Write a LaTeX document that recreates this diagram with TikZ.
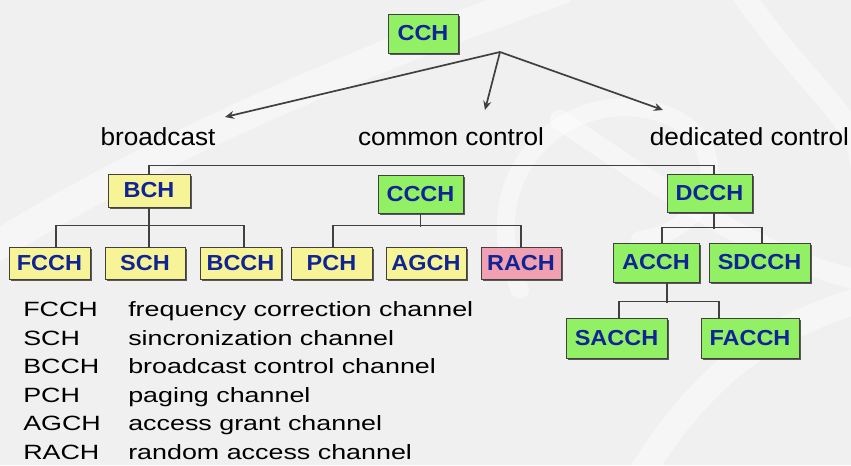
\documentclass[tikz,border=0pt]{standalone}
\usepackage{fontspec}
\setmainfont{Liberation Sans}
\newfontfamily\legendfont[FakeStretch=1.3]{Liberation Sans}
\newfontfamily\boxfont[FakeStretch=1.08]{Liberation Sans}
\newfontfamily\labelfont[FakeStretch=1.06]{Liberation Sans}
\usetikzlibrary{arrows.meta,shadows,calc}
\newlength\pxu
\setlength\pxu{0.75pt}
\definecolor{chgreen}{RGB}{146,240,100}
\definecolor{chyellow}{RGB}{246,244,150}
\definecolor{chpink}{RGB}{240,160,176}
\definecolor{chtext}{RGB}{16,36,150}
\definecolor{bggray}{RGB}{240,240,240}
\tikzset{
  chan/.style={draw=black!75, line width=1\pxu, inner sep=0pt,
    font=\boxfont\bfseries\fontsize{16.3pt}{18pt}\selectfont, text=chtext,
    drop shadow={shadow xshift=1.5pt, shadow yshift=-1.5pt, fill=black!65, opacity=1}},
  sz/.style 2 args={minimum width=#1\pxu, minimum height=#2\pxu},
  greenbox/.style={chan, fill=chgreen},
  yellowbox/.style={chan, fill=chyellow},
  pinkbox/.style={chan, fill=chpink},
  wire/.style={draw=black!75, line width=1.8\pxu},
  arrowline/.style={draw=black!75, line width=1.7\pxu, -{Stealth[length=6.75pt, width=6pt]}},
  toplabel/.style={inner sep=0pt, font=\labelfont\fontsize{18.5pt}{21pt}\selectfont},
  legend/.style={inner sep=0pt, anchor=base west, font=\legendfont\fontsize{15.5pt}{18pt}\selectfont},
  swoosh/.style={draw=white, opacity=0.45, line cap=round}
}
\begin{document}
\begin{tikzpicture}[x=\pxu, y=-\pxu]
% backdrop with a faint watermark
\fill[bggray] (0,0) rectangle (851,465);
\useasboundingbox (0,0) rectangle (851,465);
\draw[swoosh, line width=30\pxu] (-10,250) .. controls (150,150) and (360,60) .. (560,-10);
\draw[swoosh, line width=18\pxu] (520,290) .. controls (470,180) and (560,90) .. (650,110)
      .. controls (740,130) and (720,230) .. (640,240);
\draw[swoosh, line width=22\pxu] (740,-10) .. controls (800,80) and (860,120) .. (860,160);
\draw[swoosh, line width=26\pxu] (640,475) .. controls (700,380) and (760,330) .. (860,300);
\draw[swoosh, line width=20\pxu] (560,120) .. controls (650,180) and (760,260) .. (860,280);

% channel boxes
\node[greenbox, sz={70}{39}] (cch) at (423,33.5) {CCH};

\node[yellowbox, sz={82}{33}] (bch) at (149,190.5) {BCH};
\node[greenbox, sz={85}{38}] (ccch) at (420.5,194) {CCCH};
\node[greenbox, sz={85}{38}] (dcch) at (709.5,193) {DCCH};

\node[yellowbox, sz={81}{32}] (fcch) at (49.5,263) {FCCH};
\node[yellowbox, sz={80}{32}] (sch) at (145,263) {SCH};
\node[yellowbox, sz={81}{32}] (bcch) at (240.5,263) {BCCH};
\node[yellowbox, sz={81}{32}] (pch) at (331.5,263) {PCH};
\node[yellowbox, sz={80}{32}] (agch) at (426,263) {AGCH};
\node[pinkbox, sz={80}{32}] (rach) at (521,263) {RACH};

\node[greenbox, sz={86}{39}] (acch) at (656,262.5) {ACCH};
\node[greenbox, sz={101}{39}] (sdcch) at (759.5,262.5) {SDCCH};
\node[greenbox, sz={101}{40}] (sacch) at (616.5,338) {SACCH};
\node[greenbox, sz={98}{40}] (facch) at (750,338) {FACCH};

% category labels and arrows from CCH
\node[toplabel] (lbroad) at (158,137) {broadcast};
\node[toplabel] (lcommon) at (451,137) {common control};
\node[toplabel] (ldedic) at (749.5,137) {dedicated control};
\coordinate (fork) at (500,52);
\coordinate (tipb) at (225,117);
\coordinate (tipc) at (485,110);
\coordinate (tipd) at (663,110);
\draw[arrowline] (fork) -- (tipb);
\draw[arrowline] (fork) -- (tipc);
\draw[arrowline] (fork) -- (tipd);

% tree connectors
\draw[wire] (bch.north) -- ++(0,-8) -| ([xshift=4.5\pxu]dcch.north);
\draw[wire] (bch.south) -- (bch.south |- sch.north);
\draw[wire] ([xshift=6.5\pxu]fcch.north) -- ++(0,-21) -| ([xshift=3.5\pxu]bcch.north);
\draw[wire] (ccch.south) -- ++(0,13);
\draw[wire] ([xshift=1.5\pxu]pch.north) -- ++(0,-21) -| (rach.north);
\draw[wire] ([xshift=4.5\pxu]dcch.south) -- ++(0,16);
\draw[wire] ([xshift=6\pxu]acch.north) -- ++(0,-15) -| ([xshift=2.5\pxu]sdcch.north);
\draw[wire] ([xshift=11\pxu]acch.south) -- ++(0,20);
\draw[wire] ([xshift=2.5\pxu]sacch.north) -- ++(0,-16) -| ([xshift=-31\pxu]facch.north);

% legend
\foreach \ab/\txt [count=\i from 0] in {FCCH/frequency correction channel,
    SCH/sincronization channel, BCCH/broadcast control channel,
    PCH/paging channel, AGCH/access grant channel, RACH/random access channel}{
  \node[legend] (abbr\i) at (23,316.5+28.5*\i) {\ab};
  \node[legend] (desc\i) at (128,316.5+28.5*\i) {\txt};
}
\end{tikzpicture}
\end{document}
